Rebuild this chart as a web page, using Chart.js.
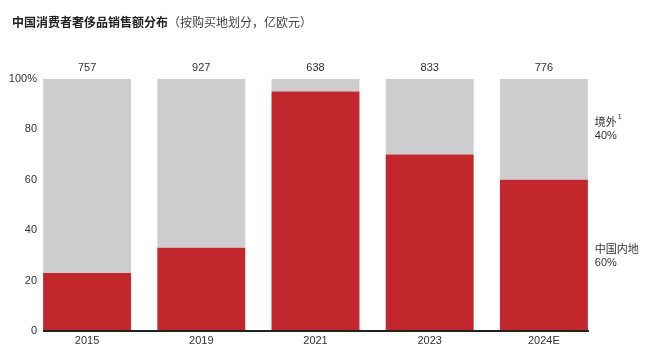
<!DOCTYPE html>
<html>
<head>
<meta charset="utf-8">
<script src="https://cdn.jsdelivr.net/npm/chart.js@4"></script>
<style>
    body { margin: 0; background: #fff; }
    #wrap { width: 663px; height: 350px; position: relative; }
</style>
</head>
<body>
<div id="wrap"><canvas id="shareChart"></canvas></div>
<script>
const years = ['2015', '2019', '2021', '2023', '2024E'];
const totals = [757, 927, 638, 833, 776];
const mainland = [23, 33, 95, 70, 60];
const overseas = [77, 67, 5, 30, 40];
const yTicks = [0, 20, 40, 60, 80, 100];

const RED = '#c1272d';
const GRAY = '#cdcdcf';
const TEXT = '#333333';
const FONT = '"Liberation Sans", Arial, "Noto Sans CJK SC", sans-serif';

const annotations = {
    id: 'annotations',
    afterDraw(chart) {
        const ctx = chart.ctx;
        const x = chart.scales.x;
        const y = chart.scales.y;
        ctx.save();

        // title
        ctx.textBaseline = 'middle';
        ctx.textAlign = 'left';
        ctx.fillStyle = '#222';
        ctx.font = 'bold 12px "Noto Sans CJK SC", sans-serif';
        const bold = '中国消费者奢侈品销售额分布';
        ctx.fillText(bold, 12, 22);
        const w = ctx.measureText(bold).width;
        ctx.font = '12px "Noto Sans CJK SC", sans-serif';
        ctx.fillStyle = '#444';
        ctx.fillText('（按购买地划分，亿欧元）', 12 + w, 22);

        // y tick labels (scale labels would be clipped to the narrow axis box)
        ctx.fillStyle = TEXT;
        ctx.textAlign = 'right';
        ctx.font = '11px ' + FONT;
        y.ticks.forEach(t => {
            ctx.fillText(t.value === 100 ? '100%' : String(t.value), 37, y.getPixelForValue(t.value));
        });

        // totals over bars
        ctx.textAlign = 'center';
        totals.forEach((t, i) => {
            ctx.fillText(String(t), x.getPixelForValue(i), y.getPixelForValue(100) - 11);
        });

        // baseline, spanning from first to last bar
        const metas = chart.getDatasetMeta(0).data;
        const first = metas[0], lastBar = metas[metas.length - 1];
        const x0 = first.x - first.width / 2;
        const x1 = lastBar.x + lastBar.width / 2 + 1;
        ctx.strokeStyle = '#222';
        ctx.lineWidth = 2;
        ctx.beginPath();
        ctx.moveTo(x0, y.getPixelForValue(0));
        ctx.lineTo(x1, y.getPixelForValue(0));
        ctx.stroke();

        // right side labels for last bar
        const last = years.length - 1;
        const lx = x1 + 6;
        ctx.textAlign = 'left';
        const grayMid = (y.getPixelForValue(100) + y.getPixelForValue(mainland[last])) / 2;
        const redMid = (y.getPixelForValue(mainland[last]) + y.getPixelForValue(0)) / 2;

        ctx.font = '11px "Noto Sans CJK SC", sans-serif';
        ctx.fillText('境外', lx, grayMid - 8);
        const sw = ctx.measureText('境外').width;
        ctx.font = '7px ' + FONT;
        ctx.fillText('1', lx + sw + 1, grayMid - 12);
        ctx.font = '11px ' + FONT;
        ctx.fillText(overseas[last] + '%', lx, grayMid + 7);

        ctx.font = '11px "Noto Sans CJK SC", sans-serif';
        ctx.fillText('中国内地', lx, redMid - 7);
        ctx.font = '11px ' + FONT;
        ctx.fillText(mainland[last] + '%', lx, redMid + 8);

        ctx.restore();
    }
};

new Chart(document.getElementById('shareChart'), {
    type: 'bar',
    data: {
        labels: years,
        datasets: [
            {
                label: '中国内地',
                data: mainland,
                backgroundColor: RED,
                borderWidth: 0,
                barPercentage: 0.77,
                categoryPercentage: 1
            },
            {
                label: '境外',
                data: overseas,
                backgroundColor: GRAY,
                borderWidth: 0,
                barPercentage: 0.77,
                categoryPercentage: 1
            }
        ]
    },
    options: {
        responsive: true,
        maintainAspectRatio: false,
        animation: false,
        layout: {
            padding: { top: 79, right: 62, bottom: 0, left: 0 }
        },
        scales: {
            x: {
                stacked: true,
                grid: { display: false, drawTicks: false },
                border: { display: false },
                ticks: {
                    color: TEXT,
                    padding: 3,
                    font: { family: FONT, size: 11 }
                },
                afterFit(scale) { scale.height = 19; }
            },
            y: {
                stacked: true,
                min: 0,
                max: 100,
                afterBuildTicks(scale) {
                    scale.ticks = yTicks.map(v => ({ value: v }));
                },
                grid: { display: false, drawTicks: false },
                border: { display: false },
                ticks: { display: false },
                afterFit(scale) { scale.width = 30; }
            }
        },
        plugins: {
            legend: { display: false },
            tooltip: { enabled: false }
        }
    },
    plugins: [annotations]
});
</script>
</body>
</html>
